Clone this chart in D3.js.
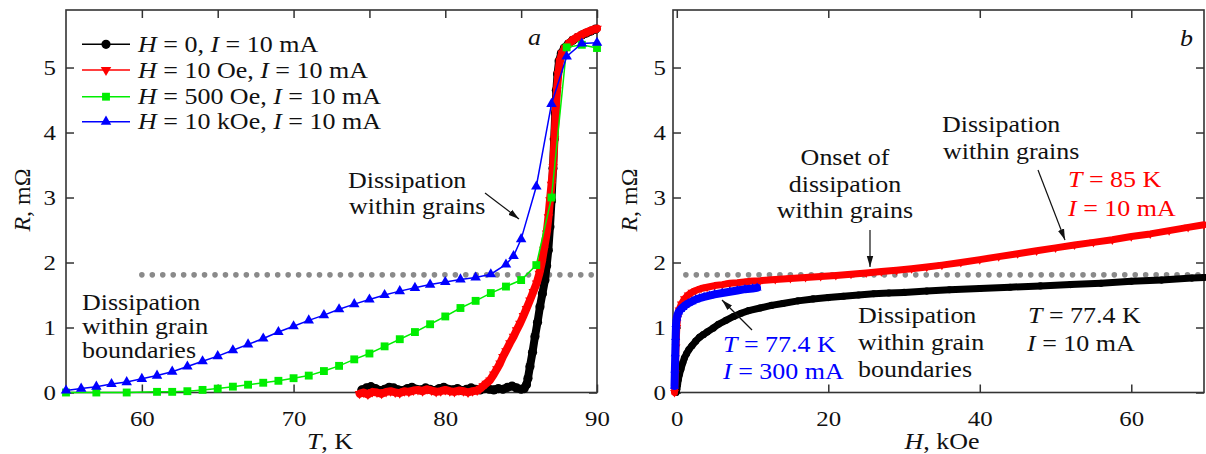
<!DOCTYPE html>
<html><head><meta charset="utf-8">
<script src="https://cdn.jsdelivr.net/npm/d3@7"></script>
<style>
body{margin:0;background:#fff;}
svg{display:block;}
text{font-family:"Liberation Serif","Times New Roman",serif;fill:#111;white-space:pre;}
</style></head><body>
<svg id="c" width="1206" height="454"></svg>
<script>
// ---------- Panel a: R(T) ----------
const aH0 = [[74.5,0.04],[74.8,0.07],[75.1,0.09],[75.4,0.06],[75.7,0.03],[76.0,0.05],[76.3,0.08],[76.6,0.07],[76.9,0.04],[77.2,0.03],[77.5,0.06],[77.8,0.08],[78.1,0.05],[78.4,0.04],[78.7,0.07],[79.0,0.05],[79.3,0.03],[79.6,0.06],[79.9,0.08],[80.2,0.05],[80.5,0.04],[80.8,0.06],[81.1,0.03],[81.4,0.05],[81.7,0.07],[82.0,0.05],[82.3,0.04],[82.6,0.06],[82.9,0.05],[83.2,0.04],[83.5,0.06],[83.8,0.05],[84.1,0.08],[84.4,0.10],[84.7,0.07],[85.0,0.05],[85.2,0.06],[85.35,0.12],[85.45,0.22],[85.58,0.40],[85.75,0.62],[85.91,0.86],[86.08,1.08],[86.24,1.32],[86.4,1.52],[86.57,1.73],[86.68,1.95],[86.79,2.19],[86.9,2.55],[87.0,2.95],[87.1,3.45],[87.18,3.9],[87.25,4.3],[87.32,4.65],[87.4,4.9],[87.5,5.1],[87.65,5.22],[87.85,5.3],[88.1,5.36],[88.4,5.42],[88.7,5.46],[89.0,5.5],[89.3,5.53],[89.6,5.56],[89.9,5.59]];
const aH10 = [[74.35,-0.02],[74.6,0.0],[74.9,-0.03],[75.2,0.01],[75.5,0.0],[75.8,-0.02],[76.1,0.01],[76.4,0.02],[76.7,0.0],[77.0,-0.01],[77.3,0.02],[77.6,0.01],[77.9,0.03],[78.2,0.04],[78.5,0.02],[78.8,0.05],[79.1,0.03],[79.4,0.01],[79.7,0.02],[80.0,0.04],[80.3,0.02],[80.6,0.01],[80.9,0.03],[81.2,0.02],[81.5,0.0],[81.8,0.02],[82.1,0.03],[82.3,0.06],[82.5,0.10],[82.7,0.14],[82.95,0.19],[83.2,0.28],[83.4,0.36],[83.61,0.45],[83.8,0.55],[84.0,0.64],[84.26,0.76],[84.5,0.86],[84.7,0.96],[84.92,1.06],[85.15,1.18],[85.35,1.29],[85.58,1.42],[85.8,1.55],[86.02,1.68],[86.2,1.83],[86.35,1.99],[86.5,2.2],[86.68,2.45],[86.8,2.7],[86.9,2.96],[87.0,3.2],[87.11,3.47],[87.2,3.9],[87.28,4.3],[87.36,4.65],[87.45,4.9],[87.55,5.1],[87.7,5.22],[87.9,5.3],[88.2,5.38],[88.5,5.44],[88.8,5.48],[89.1,5.52],[89.4,5.55],[89.7,5.58],[90.0,5.6]];
const aH500T = [55,57,59,61,62,63,64,65,66,67,68,69,70,71,72,73,74,75,76,77,78,79,80,81,82,83,84,85,86,87,88,89,90];
const aH500R = [0.0,0.0,0.0,0.01,0.01,0.02,0.04,0.06,0.09,0.12,0.15,0.18,0.22,0.26,0.33,0.41,0.51,0.60,0.71,0.82,0.93,1.05,1.17,1.30,1.41,1.53,1.63,1.73,1.96,3.0,5.31,5.35,5.3];
const aH10kT = [55,56,57,58,59,60,61,62,63,64,65,66,67,68,69,70,71,72,73,74,75,76,77,78,79,80,81,82,83,84,84.5,85,86,87,88,89,90];
const aH10kR = [0.03,0.06,0.09,0.13,0.16,0.21,0.26,0.32,0.40,0.48,0.56,0.65,0.74,0.83,0.93,1.02,1.11,1.19,1.28,1.36,1.43,1.50,1.56,1.61,1.66,1.70,1.74,1.77,1.82,1.97,2.10,2.36,3.17,4.44,5.17,5.37,5.38];

// ---------- Panel b: R(H) ----------
const b774_10 = [[-0.1,0.0],[0.0,0.05],[0.1,0.12],[0.2,0.2],[0.35,0.28],[0.55,0.36],[0.8,0.46],[1.0,0.53],[1.3,0.6],[1.6,0.66],[2.0,0.72],[2.5,0.79],[3.0,0.85],[3.5,0.89],[4.0,0.93],[4.8,0.99],[5.5,1.05],[6.5,1.11],[7.5,1.17],[8.5,1.22],[9.5,1.26],[11,1.3],[12.5,1.34],[14,1.37],[16,1.41],[18,1.44],[20,1.46],[22,1.48],[24,1.5],[26,1.52],[28,1.53],[30,1.54],[33,1.56],[36,1.58],[40,1.60],[44,1.62],[48,1.64],[52,1.66],[56,1.68],[60,1.71],[64,1.73],[68,1.76],[69.6,1.77]];
const b85_10 = [[-0.3,0.0],[-0.2,0.3],[-0.1,0.7],[0.0,1.0],[0.1,1.15],[0.3,1.27],[0.6,1.36],[1.0,1.44],[1.5,1.5],[2.0,1.54],[2.5,1.57],[3.2,1.6],[4.0,1.62],[5,1.645],[6,1.66],[7,1.68],[8,1.69],[9.5,1.71],[11,1.72],[13,1.74],[15,1.755],[17,1.77],[19,1.785],[21,1.80],[23,1.82],[25,1.84],[27,1.86],[29,1.88],[31,1.905],[33,1.93],[35,1.96],[37.5,2.0],[40,2.045],[42.5,2.09],[45,2.135],[47.5,2.18],[50,2.225],[52.5,2.27],[55,2.31],[57.5,2.35],[60,2.40],[62.5,2.44],[65,2.49],[67.5,2.54],[69.6,2.58]];
const b774_300 = [[-0.3,0.1],[-0.25,0.35],[-0.2,0.6],[-0.15,0.85],[-0.1,1.05],[0.0,1.15],[0.1,1.2],[0.25,1.24],[0.5,1.28],[0.8,1.31],[1.1,1.34],[1.5,1.37],[2.0,1.4],[2.5,1.43],[3.0,1.45],[3.6,1.47],[4.3,1.49],[5.0,1.51],[6.0,1.53],[7.0,1.55],[8.0,1.57],[9.0,1.59],[10.0,1.6],[10.6,1.61]];

const dotLevel = 1.81;
const aDotRange = [60, 90];
const bDotRange = [1.2, 69.6];
const yTicks = [0,1,2,3,4,5];
const aXTicks = [60,65,70,75,80,85,90];
const aXLabels = [60,70,80,90];
const bXTicks = [0,20,40,60];
const legendLabels = [
  [["H",1],[" = 0, ",0],["I",1],[" = 10 mA",0]],
  [["H",1],[" = 10 Oe, ",0],["I",1],[" = 10 mA",0]],
  [["H",1],[" = 500 Oe, ",0],["I",1],[" = 10 mA",0]],
  [["H",1],[" = 10 kOe, ",0],["I",1],[" = 10 mA",0]]
];

const C = {black:"#000000", red:"#ff0000", green:"#00ee00", blue:"#0000ff", gray:"#8a8a8a", axis:"#333333"};

const svg = d3.select("#c");
const defs = svg.append("defs");
defs.append("marker").attr("id","arr").attr("markerUnits","userSpaceOnUse")
  .attr("markerWidth",12).attr("markerHeight",8).attr("refX",11).attr("refY",4).attr("orient","auto")
  .append("path").attr("d","M0,0.8 L11,4 L0,7.2 Z").attr("fill","#111");

const yTop = 10, yBot = 392.5;
const y = d3.scaleLinear().domain([0, 5.885]).range([yBot, yTop]);
const xA = d3.scaleLinear().domain([55, 90]).range([66, 597]);
const xB = d3.scaleLinear().domain([-0.5, 69.6]).range([673, 1204]);

const SX = 1.13;            // horizontal stretch of glyphs seen in the reference
const TICK_FS = 22, ANN_FS = 23;

function rich(g, x, yy, parts, opt={}) {
  const sx = opt.sx === undefined ? SX : opt.sx;
  const t = g.append("text").attr("x", 0).attr("y", 0)
    .attr("font-size", opt.fs || ANN_FS).attr("text-anchor", opt.anchor || "start")
    .attr("transform", `translate(${x},${yy})` + (opt.rot ? ` rotate(${opt.rot})` : "") + ` scale(${sx},1)`);
  if (opt.fill) t.style("fill", opt.fill);
  parts.forEach(p => t.append("tspan").text(p[0]).style("font-style", p[1] ? "italic" : "normal"));
  return t;
}

function panel(xs, xTicks, xLabelSet, yLabelPad) {
  const g = svg.append("g");
  const [x0, x1] = xs.range();
  const fmtX = d => xLabelSet.includes(d) ? d : "";
  const bottom = g.append("g").attr("transform", `translate(0,${yBot})`)
    .call(d3.axisBottom(xs).tickValues(xTicks).tickSize(-8).tickPadding(18).tickFormat(fmtX));
  const top = g.append("g").attr("transform", `translate(0,${yTop})`)
    .call(d3.axisTop(xs).tickValues(xTicks).tickSize(-8).tickFormat(""));
  const left = g.append("g").attr("transform", `translate(${x0},0)`)
    .call(d3.axisLeft(y).tickValues(yTicks).tickSize(-8).tickPadding(yLabelPad).tickFormat(d3.format("d")));
  const right = g.append("g").attr("transform", `translate(${x1},0)`)
    .call(d3.axisRight(y).tickValues(yTicks).tickSize(-8).tickFormat(""));
  [bottom, top, left, right].forEach(a => {
    a.select(".domain").remove();
    a.selectAll(".tick line").attr("stroke", C.axis).attr("stroke-width", 1.5);
    a.selectAll("text").attr("font-size", TICK_FS).attr("font-family", '"Liberation Serif","Times New Roman",serif').attr("fill", "#111");
  });
  bottom.selectAll("text").attr("transform", `scale(${SX},1)`);
  left.selectAll("text").attr("transform", `translate(${-yLabelPad},0) scale(${SX},1) translate(${yLabelPad},0)`);
  g.append("rect").attr("x", x0).attr("y", yTop).attr("width", x1 - x0).attr("height", yBot - yTop)
    .attr("fill", "none").attr("stroke", C.axis).attr("stroke-width", 1.6);
  return g;
}

const gA = panel(xA, aXTicks, aXLabels, 10);
const gB = panel(xB, bXTicks, bXTicks, 7);

function dotted(xs, range) {
  svg.append("line").attr("x1", xs(range[0])).attr("x2", xs(range[1]))
    .attr("y1", y(dotLevel)).attr("y2", y(dotLevel))
    .attr("stroke", C.gray).attr("stroke-width", 5.6).attr("stroke-linecap", "round")
    .attr("stroke-dasharray", "0 10.45");
}
dotted(xA, aDotRange);
dotted(xB, bDotRange);

const sym = {
  circle: (s) => d3.symbol(d3.symbolCircle, s),
  tri: (s) => d3.symbol(d3.symbolTriangle, s),
  sq: (s) => d3.symbol(d3.symbolSquare, s)
};

function dense(xs, pts, color, width, shape, size, rot) {
  const line = d3.line().x(d => xs(d[0])).y(d => y(d[1]));
  svg.append("path").datum(pts).attr("d", line).attr("fill", "none")
    .attr("stroke", color).attr("stroke-width", width).attr("stroke-linejoin", "round").attr("stroke-linecap", "round");
  svg.append("g").selectAll("path").data(pts).join("path")
    .attr("d", shape(size)).attr("fill", color)
    .attr("transform", d => `translate(${xs(d[0])},${y(d[1])})` + (rot ? ` rotate(${rot})` : ""));
}

function marked(xs, T, R, color, shape, size, rot) {
  const pts = T.map((t, i) => [t, R[i]]);
  const line = d3.line().x(d => xs(d[0])).y(d => y(d[1]));
  svg.append("path").datum(pts).attr("d", line).attr("fill", "none")
    .attr("stroke", color).attr("stroke-width", 1.5);
  svg.append("g").selectAll("path").data(pts).join("path")
    .attr("d", shape(size)).attr("fill", color)
    .attr("transform", d => `translate(${xs(d[0])},${y(d[1])})` + (rot ? ` rotate(${rot})` : ""));
}

dense(xA, aH0, C.black, 8, sym.circle, 66);
dense(xA, aH10, C.red, 8, sym.tri, 40, 180);
marked(xA, aH500T, aH500R, C.green, sym.sq, 62);
marked(xA, aH10kT, aH10kR, C.blue, sym.tri, 48);

dense(xB, b774_10, C.black, 7, sym.circle, 40);
dense(xB, b85_10, C.red, 7, sym.tri, 34, 180);
dense(xB, b774_300, C.blue, 8, sym.tri, 36);

// legend
const lg = svg.append("g");
const legendRows = [44.3, 70, 96.7, 121.7];
const legendStyle = [
  {c: C.black, s: sym.circle(66), r: 0},
  {c: C.red, s: sym.tri(48), r: 180},
  {c: C.green, s: sym.sq(62), r: 0},
  {c: C.blue, s: sym.tri(48), r: 0}
];
legendLabels.forEach((lab, i) => {
  const yy = legendRows[i];
  lg.append("line").attr("x1", 82).attr("x2", 130).attr("y1", yy).attr("y2", yy)
    .attr("stroke", legendStyle[i].c).attr("stroke-width", 1.5);
  lg.append("path").attr("d", legendStyle[i].s).attr("fill", legendStyle[i].c)
    .attr("transform", `translate(106,${yy}) rotate(${legendStyle[i].r})`);
  rich(lg, 138, yy + 7.5, lab);
});

// annotations
const an = svg.append("g");
function arrow(x1, y1, x2, y2) {
  an.append("line").attr("x1", x1).attr("y1", y1).attr("x2", x2).attr("y2", y2)
    .attr("stroke", "#111").attr("stroke-width", 1.2).attr("marker-end", "url(#arr)");
}
rich(an, 528, 45, [["a",1]]);
rich(an, 348, 188, [["Dissipation",0]]);
rich(an, 349, 214, [["within grains",0]]);
arrow(485, 193, 519, 219);
rich(an, 82, 310, [["Dissipation",0]]);
rich(an, 82, 334, [["within grain",0]]);
rich(an, 82, 358, [["boundaries",0]]);

rich(an, 1180, 46, [["b",1]]);
rich(an, 845, 165, [["Onset of",0]], {anchor:"middle"});
rich(an, 845, 191.5, [["dissipation",0]], {anchor:"middle"});
rich(an, 845, 218, [["within grains",0]], {anchor:"middle"});
arrow(870, 230, 870, 267);
rich(an, 942, 132, [["Dissipation",0]]);
rich(an, 943, 158.5, [["within grains",0]]);
arrow(1038, 170, 1065, 240);
rich(an, 1068, 187, [["T",1],[" = 85 K",0]], {fill: C.red});
rich(an, 1068, 216, [["I",1],[" = 10 mA",0]], {fill: C.red});
rich(an, 723, 352, [["T",1],[" = 77.4 K",0]], {fill: C.blue});
rich(an, 723, 378.5, [["I",1],[" = 300 mA",0]], {fill: C.blue});
arrow(752, 330, 722, 300);
rich(an, 858, 323, [["Dissipation",0]]);
rich(an, 858, 350, [["within grain",0]]);
rich(an, 858, 377, [["boundaries",0]]);
rich(an, 1028, 323, [["T",1],[" = 77.4 K",0]]);
rich(an, 1027, 350.5, [["I",1],[" = 10 mA",0]]);

// axis titles
rich(an, 330, 449, [["T",1],[", K",0]], {anchor:"middle"});
rich(an, 942, 449, [["H",1],[", kOe",0]], {anchor:"middle"});
rich(an, 30, 200, [["R",1],[", m\u03A9",0]], {anchor:"middle", fs: 24, sx: 1, rot: -90});
rich(an, 636.5, 200, [["R",1],[", m\u03A9",0]], {anchor:"middle", fs: 24, sx: 1, rot: -90});
</script>
</body></html>
